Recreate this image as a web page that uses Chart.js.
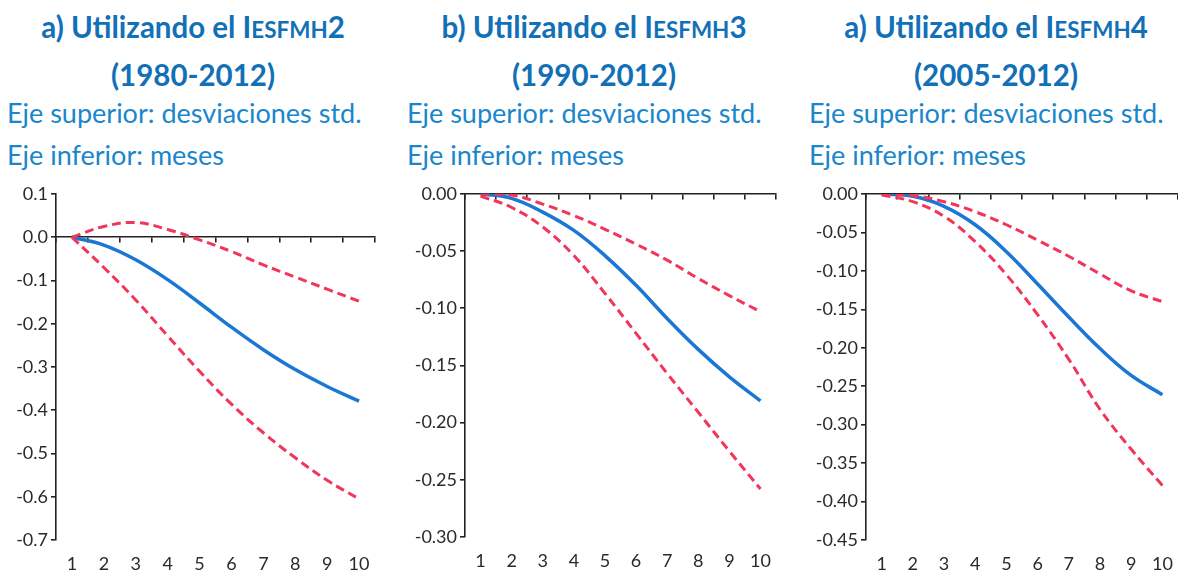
<!DOCTYPE html>
<html lang="es">
<head>
<meta charset="UTF-8" />
<title>Respuesta acumulada</title>
<script src="https://cdn.jsdelivr.net/npm/chart.js"></script>
<style>
  body { margin: 0; background: #fff; font-family: "Lato", sans-serif; }
  .page { position: relative; width: 1178px; height: 572px; overflow: hidden; }
  .title { position: absolute; text-align: center; color: #1270b6; font-weight: bold; font-size: 29.5px; line-height: 34px; white-space: nowrap; }
  .title .sc { font-size: 0.76em; }
  .sub { position: absolute; color: #1a86cb; font-size: 27px; line-height: 32px; white-space: nowrap; }
  .box { position: absolute; top: 180px; height: 392px; }
</style>
</head>
<body>
<div class="page">
  <div class="title" style="left:0;width:386px;top:10px">a) Utilizando el I<span class="sc">ESFMH</span>2</div>
  <div class="title" style="left:0;width:386px;top:58px">(1980-2012)</div>
  <div class="sub" style="left:7px;top:97px">Eje superior: desviaciones std.</div>
  <div class="sub" style="left:7px;top:139px">Eje inferior: meses</div>

  <div class="title" style="left:400px;width:388px;top:10px">b) Utilizando el I<span class="sc">ESFMH</span>3</div>
  <div class="title" style="left:400px;width:388px;top:58px">(1990-2012)</div>
  <div class="sub" style="left:407px;top:97px">Eje superior: desviaciones std.</div>
  <div class="sub" style="left:407px;top:139px">Eje inferior: meses</div>

  <div class="title" style="left:802px;width:388px;top:10px">a) Utilizando el I<span class="sc">ESFMH</span>4</div>
  <div class="title" style="left:802px;width:388px;top:58px">(2005-2012)</div>
  <div class="sub" style="left:809px;top:97px">Eje superior: desviaciones std.</div>
  <div class="sub" style="left:809px;top:139px">Eje inferior: meses</div>

  <div class="box" style="left:0;width:390px"><canvas id="g1"></canvas></div>
  <div class="box" style="left:400px;width:390px"><canvas id="g2"></canvas></div>
  <div class="box" style="left:800px;width:378px"><canvas id="g3"></canvas></div>
</div>

<script>
  // meses (eje inferior)
  var meses = ["1", "2", "3", "4", "5", "6", "7", "8", "9", "10"];

  // a) IESFMH2 1980-2012
  var central2 = [0, -0.018, -0.052, -0.098, -0.152, -0.208, -0.26, -0.306, -0.345, -0.379];
  var superior2 = [0, 0.025, 0.034, 0.018, -0.006, -0.033, -0.064, -0.092, -0.12, -0.148];
  var inferior2 = [0, -0.07, -0.145, -0.228, -0.31, -0.386, -0.452, -0.51, -0.562, -0.605];
  var escala2 = [-0.7, 0.1, 0.1, 1]; // min, max, paso, decimales

  // b) IESFMH3 1990-2012
  var central3 = [0, -0.004, -0.016, -0.032, -0.054, -0.08, -0.109, -0.136, -0.16, -0.181];
  var superior3 = [0, -0.001, -0.009, -0.019, -0.031, -0.044, -0.058, -0.074, -0.089, -0.103];
  var inferior3 = [-0.002, -0.012, -0.029, -0.054, -0.087, -0.122, -0.157, -0.191, -0.225, -0.258];
  var escala3 = [-0.3, 0, 0.05, 2];

  // a) IESFMH4 2005-2012
  var central4 = [0, -0.003, -0.016, -0.04, -0.075, -0.117, -0.16, -0.201, -0.236, -0.261];
  var superior4 = [0, -0.002, -0.01, -0.023, -0.04, -0.06, -0.081, -0.104, -0.126, -0.14];
  var inferior4 = [-0.001, -0.01, -0.029, -0.062, -0.105, -0.157, -0.215, -0.28, -0.332, -0.379];
  var escala4 = [-0.45, 0, 0.05, 2];

  var azul = "#1a78d4";
  var rojo = "#f2355a";
  var eje = "#222";

  function grafico(id, escala, central, sup, inf, anchoY, padTop, padRight, altoX) {
    var ctx = document.getElementById(id).getContext("2d");
    return new Chart(ctx, {
      type: "line",
      data: {
        labels: meses,
        datasets: [
          { data: sup, borderColor: rojo, borderWidth: 3, borderDash: [9, 5], pointRadius: 0, tension: 0.4, fill: false },
          { data: inf, borderColor: rojo, borderWidth: 3, borderDash: [9, 5], pointRadius: 0, tension: 0.4, fill: false },
          { data: central, borderColor: azul, borderWidth: 3.5, pointRadius: 0, tension: 0.4, fill: false }
        ]
      },
      options: {
        responsive: true,
        maintainAspectRatio: false,
        animation: false,
        layout: { padding: { top: padTop, right: padRight, left: 0, bottom: 0 } },
        plugins: { legend: { display: false }, tooltip: { enabled: false } },
        scales: {
          x: {
            type: "category",
            position: "bottom",
            offset: true,
            border: { display: false },
            grid: { display: false },
            ticks: { color: "#2a2a2a", font: { family: "Lato", size: 18 }, padding: 5, maxRotation: 0 },
            afterFit: function (s) { s.height = altoX; }
          },
          x0: {
            type: "category",
            position: { y: 0 },
            offset: true,
            border: { display: true, color: eje, width: 1.6 },
            grid: { display: true, drawOnChartArea: false, drawTicks: true, tickLength: 5, color: eje, lineWidth: 1.6, offset: true },
            ticks: { display: false }
          },
          y: {
            min: escala[0],
            max: escala[1],
            border: { display: true, color: eje, width: 1.6 },
            grid: { drawOnChartArea: false, drawTicks: true, tickLength: 5, color: eje, lineWidth: 1.6 },
            ticks: {
              stepSize: escala[2],
              color: "#2a2a2a",
              font: { family: "Lato", size: 18 },
              padding: 3,
              callback: function (v) {
                if (Math.abs(v) < 1e-9) v = 0;
                return v.toFixed(escala[3]);
              }
            },
            afterFit: function (s) { s.width = anchoY; }
          }
        }
      }
    });
  }

  grafico("g1", escala2, central2, superior2, inferior2, 56, 14, 15, 32);
  grafico("g2", escala3, central3, superior3, inferior3, 65, 13, 14, 35);
  grafico("g3", escala4, central4, superior4, inferior4, 66, 14, 0, 32);
</script>
</body>
</html>
